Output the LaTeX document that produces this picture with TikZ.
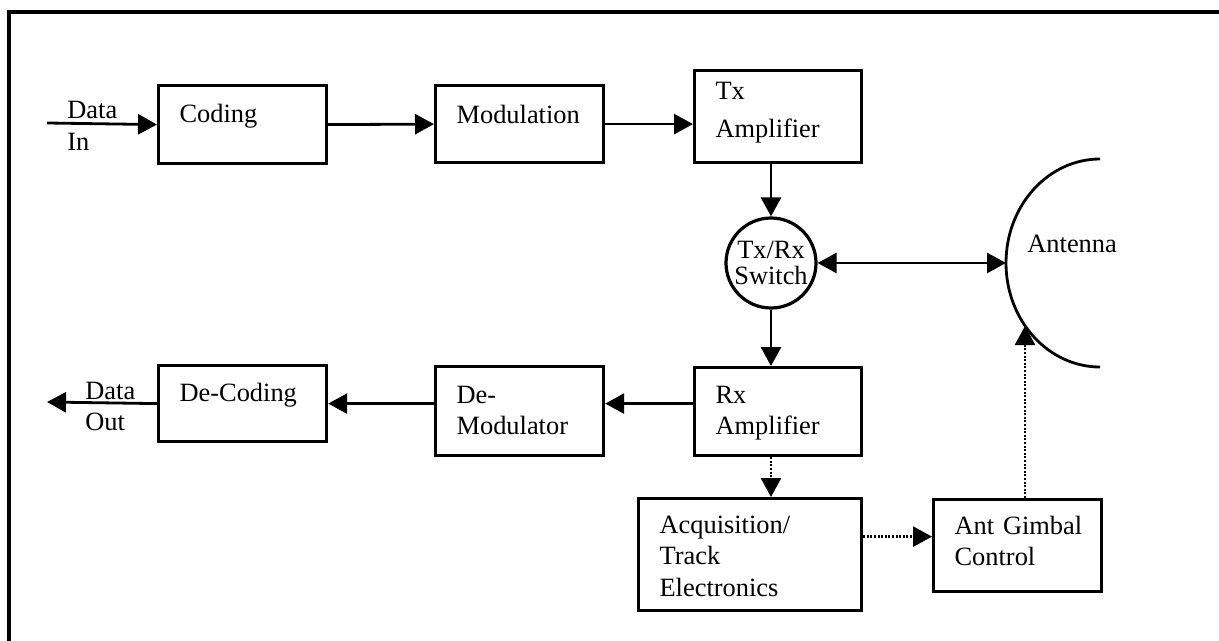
\documentclass[tikz,border=0pt]{standalone}
\usepackage{fontspec}
\setmainfont{Liberation Serif}
\usetikzlibrary{arrows.meta}
\hyphenpenalty=10000

\tikzset{
  blk/.style={draw, rectangle, line width=1.6pt, anchor=north west,
    inner xsep=10.5pt, inner ysep=0pt, align=left},
  sig/.style={line width=1.4pt, ->},
  ctl/.style={line width=1.3pt, dash pattern=on 1pt off 0.8pt, ->},
  lbl/.style={anchor=base west, inner sep=0pt},
}

\begin{document}
\begin{tikzpicture}[x=0.5pt, y=-0.5pt,
    >={Triangle[length=9.5pt,width=10pt]},
    font=\fontsize{13.2}{15.6}\selectfont]
  \useasboundingbox (0,0) rectangle (1219,641);

  % frame
  \draw[line width=1.6pt] (1219,12) -- (9,12) -- (9,641);

  % blocks: name/left/top/width/height/first baseline/text
  \foreach \name/\x/\y/\w/\h/\bl/\txt in {
      coding/157/84/168/78/37/Coding,
      modul/434/84/168/77/38/Modulation,
      txamp/693/69/167/92/29/{Tx\\[3.5pt]Amplifier},
      rxamp/693/366/167/88/36/{Rx\\Amplifier},
      demod/434/365/168/89/37/{De-\\Modulator},
      decod/157/364/168/76/36/De-Coding,
      acq/637/497/223/112/35/{Acquisition/\\Track\\Electronics},
      gimbal/932/498/168/92/35/{Ant\nobreakspace Gimbal\\Control}
    } {
    \pgfmathsetmacro{\twid}{(\w-42)/2}
    \pgfmathsetmacro{\thgt}{\bl/2}
    \pgfmathsetmacro{\tdep}{(\h-\bl)/2}
    \node[blk, text width=\twid pt, text height=\thgt pt, text depth=\tdep pt]
      (\name) at (\x,\y) {\txt};
  }

  % switch
  \node[draw, circle, line width=1.6pt, minimum size=45pt, inner sep=0pt,
    align=center, font=\fontsize{13.2}{12.8}\selectfont] (sw) at (771,263) {Tx/Rx\\Switch};

  % antenna
  \draw[line width=1.4pt] (1100,159) arc[start angle=270, end angle=90, x radius=94, y radius=104];
  \coordinate (antL) at (1006,263);
  \coordinate (antB) at (1025,326);
  \node[lbl] (antlbl) at (1027,253) {Antenna};

  % data in / out
  \coordinate (din) at (47,123);
  \coordinate (dout) at (47,402);
  \node[lbl, text width=40pt] (inlbl) at (67,119) {Data\\In};
  \node[lbl, text width=40pt] (outlbl) at (85,399) {Data\\Out};

  % transmit chain
  \draw[sig] (din) -- (coding.west);
  \draw[sig] (coding.east) -- (modul.west);
  \draw[sig] (modul.east) -- (modul.east -| txamp.west);
  \draw[sig] (txamp.south -| sw.north) -- (sw.north);
  \draw[sig, <->] (sw.east) -- (antL);

  % receive chain
  \draw[sig] (sw.south) -- (sw.south |- rxamp.north);
  \draw[sig] (rxamp.west |- decod.east) -- (demod.east |- decod.east);
  \draw[sig] (demod.west |- decod.east) -- (decod.east);
  \draw[sig] (decod.west) -- (dout);

  % tracking loop
  \coordinate (gin) at ([yshift=4.5pt]gimbal.west);
  \draw[ctl] (rxamp.south -| sw.south) -- (acq.north -| sw.south);
  \draw[ctl] (acq.east |- gin) -- (gin);
  \draw[ctl] (gimbal.north -| antB) -- (antB);
\end{tikzpicture}
\end{document}
